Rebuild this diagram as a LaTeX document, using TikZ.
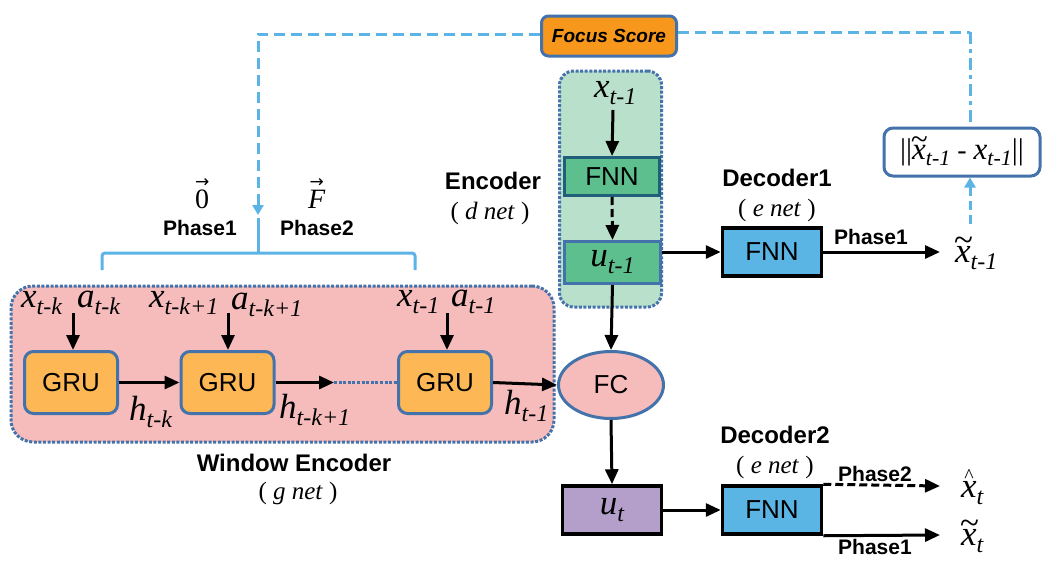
\documentclass[tikz,border=0pt]{standalone}
\usepackage{fontspec}
\setmainfont{Liberation Serif}
\setsansfont{Liberation Sans}
\newfontfamily\dejavu{DejaVu Sans}
\usetikzlibrary{arrows.meta,shapes.geometric}
\definecolor{bord}{HTML}{4472AA}
\definecolor{lblue}{HTML}{5BB4E5}
\definecolor{orng}{HTML}{F7981D}
\definecolor{encg}{HTML}{B9E0CB}
\definecolor{fnng}{HTML}{5DBE8E}
\definecolor{fnnbord}{HTML}{1F5F7A}
\definecolor{pinkf}{HTML}{F6BCBC}
\definecolor{gruf}{HTML}{FDB855}
\definecolor{decf}{HTML}{5AB4E4}
\definecolor{purf}{HTML}{B49FCB}
\def\vmain{35}\def\vsubs{24}\def\vdrop{7pt}
\newcommand\vv[2]{{\fontsize{\vmain}{\vmain}\selectfont\itshape #1}\raisebox{-\vdrop}{\fontsize{\vsubs}{\vsubs}\selectfont\itshape #2}}
\newcommand\tldx{\ooalign{x\cr\hidewidth\raisebox{0.3em}{\char"007E}\hidewidth\cr}}
\newcommand\hatxx{\ooalign{x\cr\hidewidth\raisebox{0.42em}{\fontsize{20}{20}\selectfont\upshape\char"005E}\hidewidth\cr}}
\newcommand\vecover[1]{\ooalign{#1\cr\hidewidth\raisebox{0.72em}{\dejavu\upshape\fontsize{17}{17}\selectfont →}\hidewidth\cr}}
\begin{document}
\begin{tikzpicture}[x=1pt,y=-1pt,
  arr/.style={line width=3pt,-{Triangle[length=15pt,width=13pt]}},
  dasharr/.style={arr,dash pattern=on 8pt off 4pt},
  bluedash/.style={draw=lblue,line width=3pt,dash pattern=on 11pt off 6pt},
  bluedashdot/.style={draw=lblue,line width=3pt,dash pattern=on 12pt off 5pt on 4pt off 5pt},
  blueline/.style={draw=lblue,line width=3pt},
  bluetip/.style={-{Triangle[length=10pt,width=11pt]}},
  bold/.style={font=\sffamily\bfseries\fontsize{24}{26}\selectfont},
  phase/.style={font=\sffamily\bfseries\fontsize{21}{22}\selectfont},
  netlab/.style={font=\fontsize{25}{26}\selectfont},
  plain/.style={font=\sffamily\fontsize{26}{28}\selectfont},
  gru/.style={plain,draw=bord,fill=gruf,line width=3pt,rounded corners=9pt,minimum width=93pt,minimum height=62pt,inner sep=0pt},
  blkbox/.style={draw=black,line width=3.5pt,minimum width=99pt,minimum height=48pt,inner sep=0pt},
  cont/.style={draw=bord,line width=3pt,dash pattern=on 3pt off 1.6pt,inner sep=0pt},
  lab/.style={inner sep=0pt,anchor=base west}
]
\useasboundingbox (0,0) rectangle (1050,563);

% containers
\node[cont,fill=pinkf,rounded corners=22pt,minimum width=543pt,minimum height=156pt] (win) at (282.5,364) {};
\node[cont,fill=encg,rounded corners=14pt,minimum width=102pt,minimum height=236pt] (encbox) at (610.5,189) {};

% Focus score
\node[draw=bord,fill=orng,line width=3pt,rounded corners=7pt,minimum width=135pt,minimum height=40pt,inner sep=0pt,font=\sffamily\bfseries\itshape\fontsize{19}{20}\selectfont] (fs) at (609,36) {Focus Score};

% norm box
\node[draw=bord,fill=white,line width=3pt,rounded corners=9pt,minimum width=156pt,minimum height=48pt,inner sep=0pt] (norm) at (962,152)
  {\def\vmain{31}\def\vsubs{22}\def\vdrop{6pt}{\fontsize{30}{30}\selectfont ||}\vv{\tldx}{t-1}{\fontsize{28}{28}\selectfont\ - }\vv{x}{t-1}{\fontsize{30}{30}\selectfont ||}};

% encoder
\node[lab] (xe) at (594,97) {\vv{x}{t-1}};
\node[plain,draw=fnnbord,fill=fnng,line width=3pt,minimum width=95pt,minimum height=38pt,inner sep=0pt] (fnn1) at (612,176.5) {FNN};
\node[draw=bord,fill=fnng,line width=3pt,minimum width=96pt,minimum height=42pt,inner sep=0pt] (ut1) at (612.5,262.5) {\vv{u}{t-1}};
\coordinate (xeb) at (613,110);
\draw[arr] (xeb) -- (fnn1.north);
\draw[dasharr] (fnn1.south) -- (ut1.north);
\node[bold] (enclab) at (493,181) {Encoder};
\node[netlab] (encnet) at (490,213) {( \textit{d net} )};

% decoder 1
\node[plain,blkbox,fill=decf] (dec1) at (772,252) {FNN};
\node[bold] (d1lab) at (777,178) {Decoder1};
\node[netlab] (d1net) at (777,210) {( \textit{e net} )};
\draw[arr] (ut1.east |- dec1.west) -- (dec1.west);
\coordinate (p1e) at (940,252);
\draw[arr] (dec1.east) -- (p1e);
\node[phase] (p1lab) at (871,237) {Phase1};
\node[lab] (xt1) at (955,262) {\vv{\tldx}{t-1}};
\coordinate (xt1top) at (970,224);
\draw[blueline,dash pattern=on 9pt off 5pt,bluetip] (xt1top) -- (norm.south -| xt1top);

% focus score lines
\coordinate (c1) at (258,34);
\coordinate (c2) at (258,215);
\coordinate (cr) at (970,32);
\draw[bluedash,bluetip] (fs.west |- c1) -- (c1) -- (c2);
\draw[bluedash] (fs.east |- cr) -- (cr);
\draw[bluedashdot] (cr) -- (norm.north -| cr);

% bracket
\coordinate (b0) at (258,218);
\coordinate (bm) at (258,253);
\coordinate (bl) at (102,270);
\coordinate (br) at (415,270);
\draw[blueline] (b0) -- (bm);
\draw[blueline,rounded corners=3pt] (bl) -- (bl |- bm) -- (br |- bm) -- (br);
\node[phase] (ph1) at (200,228) {Phase1};
\node[phase] (ph2) at (317,228) {Phase2};
\node[lab,font=\fontsize{28}{28}\selectfont] (v0) at (195,208) {\vecover{0}};
\node[lab,font=\fontsize{28}{28}\selectfont] (vF) at (308,208) {\vecover{\itshape F}};

% window encoder
\node[gru] (g1) at (71,382.5) {GRU};
\node[gru] (g2) at (227.5,382.5) {GRU};
\node[gru] (g3) at (445,382.5) {GRU};
\node[lab] (x1) at (21,307) {\vv{x}{t-k}};
\node[lab] (a1) at (77,307) {\vv{a}{t-k}};
\node[lab] (x2) at (149,307) {\vv{x}{t-k+1}};
\node[lab] (a2) at (231,309) {\vv{a}{t-k+1}};
\node[lab] (x3) at (397,306) {\vv{x}{t-1}};
\node[lab] (a3) at (451,306) {\vv{a}{t-1}};
\coordinate (i1) at (73,313);
\coordinate (i2) at (228,313);
\coordinate (i3) at (447,313);
\draw[arr] (i1) -- (i1 |- g1.north);
\draw[arr] (i2) -- (i2 |- g2.north);
\draw[arr] (i3) -- (i3 |- g3.north);
\draw[arr] (g1.east) -- (g2.west);
\coordinate (d1) at (334,382.5);
\draw[arr] (g2.east) -- (d1);
\draw[draw=bord,line width=3pt,dash pattern=on 3pt off 1.6pt] (d1) -- (g3.west);
\node[lab] (h1) at (129,420) {\vv{h}{t-k}};
\node[lab] (h2) at (279,418) {\vv{h}{t-k+1}};
\node[lab] (h3) at (504,414) {\vv{h}{t-1}};
\node[bold] (wlab) at (294,463) {Window Encoder};
\node[netlab] (wnet) at (298,493) {( \textit{g net} )};

% FC and below
\node[ellipse,draw=bord,fill=pinkf,line width=3pt,minimum width=105pt,minimum height=67pt,inner sep=0pt,plain] (fc) at (611,385) {FC};
\draw[arr] (g3.east) -- (fc.west);
\draw[arr] (ut1.south) -- (fc.north);
\node[blkbox,fill=purf] (ut) at (612,510) {\vv{u}{t}};
\draw[arr] (fc.south) -- (ut.north);
\node[plain,blkbox,fill=decf] (dec2) at (772,510) {FNN};
\draw[arr] (ut.east) -- (dec2.west);
\node[bold] (d2lab) at (775,435) {Decoder2};
\node[netlab] (d2net) at (775,467) {( \textit{e net} )};
\coordinate (p2e) at (940,486);
\coordinate (p3e) at (940,535);
\draw[dasharr] (dec2.north east) -- (p2e);
\draw[arr] (dec2.south east) -- (p3e);
\node[phase] (p2lab) at (875,474) {Phase2};
\node[phase] (p3lab) at (875,547) {Phase1};
\node[lab] (xh) at (961,497) {\vv{\hatxx}{t}};
\node[lab] (xtt) at (961,545) {\vv{\tldx}{t}};
\end{tikzpicture}
\end{document}
